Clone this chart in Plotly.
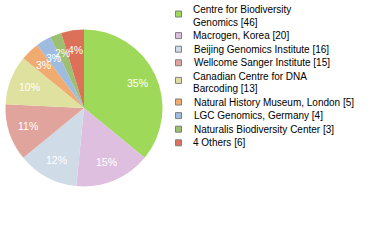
import math
import plotly.graph_objects as go

labels = ["Centre for Biodiversity Genomics", "Macrogen, Korea", "Beijing Genomics Institute",
          "Wellcome Sanger Institute", "Canadian Centre for DNA Barcoding",
          "Natural History Museum, London", "LGC Genomics, Germany",
          "Naturalis Biodiversity Center", "4 Others"]
values = [46, 20, 16, 15, 13, 5, 4, 3, 6]
colors = ["#9fd95a", "#dfbfe0", "#cfdbe7", "#e0a49c", "#dfe29f",
          "#f0ab70", "#9ebbe0", "#9cc070", "#dd7058"]
wrap_after = {0: "Centre for Biodiversity", 4: "Canadian Centre for DNA"}

W, H = 380, 240
cx, cy, R = 84, 108, 78.5
total = sum(values)
FONT = "Liberation Sans"

fig = go.Figure(go.Pie(
    labels=labels, values=values, sort=False, direction="clockwise", rotation=0,
    marker=dict(colors=colors, line=dict(width=0)),
    textinfo="none", hoverinfo="label+value", showlegend=False,
    domain=dict(x=[(cx - R) / W, (cx + R) / W], y=[1 - (cy + R) / H, 1 - (cy - R) / H]),
))

annotations = []
shapes = []
cum = 0
for v in values:
    f = (cum + v / 2) / total
    cum += v
    th = 2 * math.pi * f
    r = 0.75 * R
    px = cx + r * math.sin(th)
    py = cy - r * math.cos(th)
    annotations.append(dict(x=px / W, y=1 - py / H, xref="paper", yref="paper",
                            xanchor="center", yanchor="middle",
                            text=f"{int(v * 100 / total)}%", showarrow=False,
                            font=dict(family=FONT, size=10.5, color="white")))

inner_h = 12.0
entry_gap = 13.6
y = 10.0
for i, (lab, v) in enumerate(zip(labels, values)):
    full = f"{lab} [{v}]"
    if i in wrap_after:
        first = wrap_after[i]
        lines = [first, full[len(first) + 1:]]
    else:
        lines = [full]
    box_c = y + (4 if len(lines) > 1 else 0)
    shapes.append(dict(type="rect", xref="paper", yref="paper",
                       x0=175.5 / W, x1=181.5 / W, y0=1 - (box_c + 3) / H, y1=1 - (box_c - 3) / H,
                       fillcolor=colors[i], line=dict(color="#7f7f7f", width=1)))
    for k, ln in enumerate(lines):
        ly = y + k * inner_h
        annotations.append(dict(x=191.5 / W, y=1 - ly / H, xref="paper", yref="paper",
                                xanchor="left", yanchor="middle", align="left", text=ln,
                                showarrow=False,
                                font=dict(family=FONT, size=10, color="black")))
    y += (len(lines) - 1) * inner_h + entry_gap

fig.update_layout(width=W, height=H, margin=dict(l=0, r=0, t=0, b=0),
                  paper_bgcolor="white", plot_bgcolor="white",
                  annotations=annotations, shapes=shapes)
fig.write_html("out.html")
